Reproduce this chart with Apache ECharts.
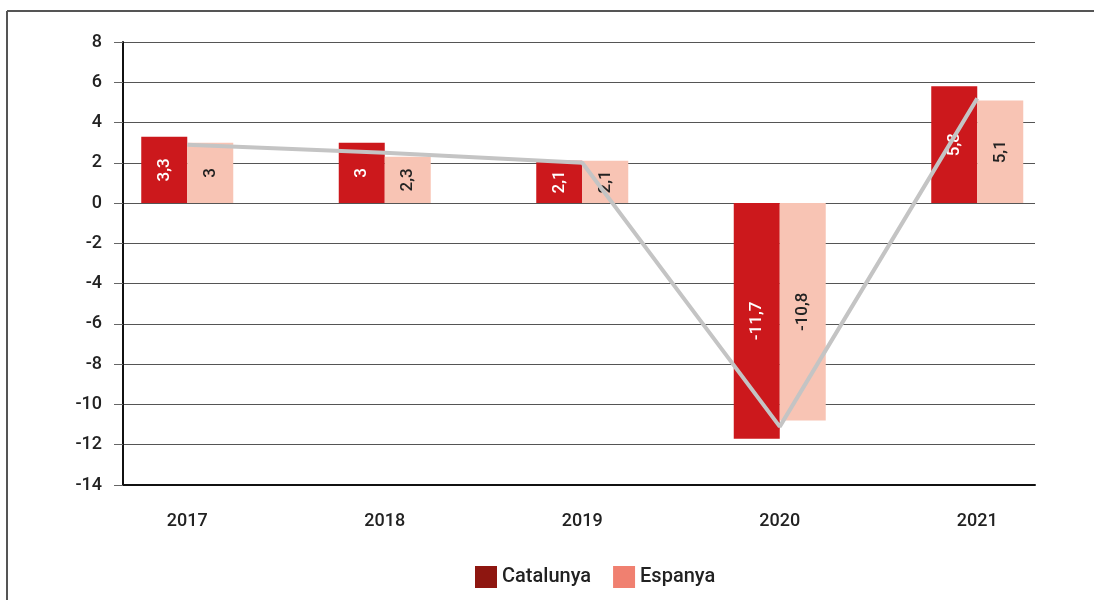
<!DOCTYPE html>
<html>
<head>
<meta charset="utf-8">
<script src="https://cdn.jsdelivr.net/npm/echarts@6/dist/echarts.min.js"></script>
<style>
  html, body { margin: 0; padding: 0; background: #fff; }
  #main { width: 1094px; height: 600px; }
</style>
</head>
<body>
<div id="main"></div>
<script>
// dades
var years = ['2017', '2018', '2019', '2020', '2021'];
var catalunya = [3.3, 3, 2.1, -11.7, 5.8];
var espanya = [3, 2.3, 2.1, -10.8, 5.1];
var trendLine = [2.9, 2.5, 2.0, -11.1, 5.2];
var yTicks = [-14, -12, -10, -8, -6, -4, -2, 0, 2, 4, 6, 8];

var myChart = echarts.init(document.getElementById('main'));

function comma(p) {
  return String(p.value).replace('.', ',');
}

var option = {
  animation: false,
  textStyle: { fontFamily: 'Roboto' },
  graphic: [
    { type: 'line', shape: { x1: 7, y1: 11, x2: 7, y2: 600 }, style: { stroke: '#555', lineWidth: 2 } },
    { type: 'line', shape: { x1: 7, y1: 11, x2: 1094, y2: 11 }, style: { stroke: '#555', lineWidth: 2 } }
  ],
  legend: {
    left: 470,
    top: 561,
    itemWidth: 22,
    itemHeight: 22,
    itemGap: 22,
    icon: 'rect',
    textStyle: { fontSize: 20, fontWeight: 500, color: '#222' },
    data: [
      { name: 'Catalunya', itemStyle: { color: '#8e1610' } },
      { name: 'Espanya', itemStyle: { color: '#f08070' } }
    ]
  },
  grid: [
    { left: 123, right: 59, top: 42, bottom: 115 },
    { left: 88.5, width: 987.5, top: 42, bottom: 115 }
  ],
  xAxis: [
    {
      type: 'category',
      gridIndex: 0,
      data: years,
      axisLine: { onZero: false, lineStyle: { color: '#111', width: 2 } },
      axisTick: { show: false },
      axisLabel: { show: false }
    },
    {
      type: 'category',
      gridIndex: 1,
      data: years,
      axisLine: { show: false },
      axisTick: { show: false },
      axisLabel: { fontSize: 18, fontWeight: 500, color: '#222', margin: 27 }
    }
  ],
  yAxis: [
    {
      type: 'value',
      gridIndex: 0,
      min: yTicks[0],
      max: yTicks[yTicks.length - 1],
      interval: 2,
      axisLine: { show: true, lineStyle: { color: '#111', width: 2 } },
      axisTick: { show: true, length: 9, lineStyle: { color: '#666' } },
      axisLabel: { fontSize: 18, fontWeight: 500, color: '#222', margin: 21 },
      splitLine: { lineStyle: { color: '#555', width: 1 } }
    },
    {
      type: 'value',
      gridIndex: 1,
      min: yTicks[0],
      max: yTicks[yTicks.length - 1],
      interval: 2,
      show: false,
      splitLine: { show: false }
    }
  ],
  series: [
    {
      name: 'Catalunya',
      type: 'bar',
      xAxisIndex: 1,
      yAxisIndex: 1,
      barWidth: 46,
      barGap: '0%',
      itemStyle: { color: '#cc181c' },
      label: {
        show: true,
        position: 'inside',
        rotate: 90,
        fontSize: 17,
        fontWeight: 500,
        color: '#fff',
        formatter: comma
      },
      data: catalunya
    },
    {
      name: 'Espanya',
      type: 'bar',
      xAxisIndex: 1,
      yAxisIndex: 1,
      barWidth: 46,
      barGap: '0%',
      itemStyle: { color: '#f8c4b4' },
      label: {
        show: true,
        position: 'inside',
        rotate: 90,
        fontSize: 17,
        fontWeight: 500,
        color: '#222',
        formatter: comma
      },
      data: espanya
    },
    {
      name: 'tendencia',
      type: 'line',
      xAxisIndex: 1,
      yAxisIndex: 1,
      symbol: 'none',
      z: 5,
      lineStyle: { color: '#c4c4c4', width: 4 },
      data: trendLine
    }
  ]
};

myChart.setOption(option);
</script>
</body>
</html>
